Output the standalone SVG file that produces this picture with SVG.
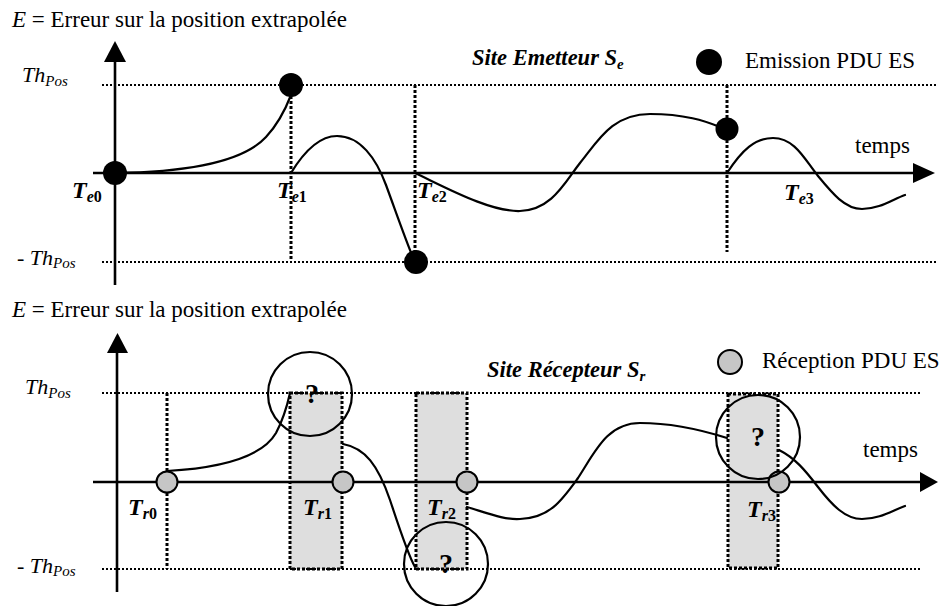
<svg xmlns="http://www.w3.org/2000/svg" width="939" height="606" viewBox="0 0 939 606">
  <defs>
    <style>
      .txt { font-family: "Liberation Serif", "Times New Roman", serif; fill: #000; }
      .t23 { font-size: 23px; }
      .it { font-style: italic; }
      .bi { font-style: italic; font-weight: bold; }
      .b { font-weight: bold; }
      .tm { font-size: 24px; }
      .sub { font-size: 16px; }
      .site { font-size: 22.5px; }
      .axis { stroke: #000; stroke-width: 2.6; fill: none; }
      .thr { stroke: #000; stroke-width: 2; stroke-dasharray: 2 2; fill: none; }
      .vdot { stroke: #000; stroke-width: 3; stroke-dasharray: 3 2; fill: none; }
      .curve { stroke: #000; stroke-width: 2.2; fill: none; stroke-linecap: round; }
      .emit { fill: #000; }
      .recv { fill: #c6c6c6; stroke: #000; stroke-width: 2; }
      .win { fill: #dedede; stroke: #000; stroke-width: 3; stroke-dasharray: 3 2; }
      .ring { fill: none; stroke: #000; stroke-width: 2.2; }
    </style>
  </defs>
  <rect width="939" height="606" fill="#fff"/>

  <!-- ===== Sender site ===== -->
  <g id="sender-title">
    <text class="txt t23" x="12" y="27"><tspan class="it">E</tspan> = Erreur sur la position extrapolée</text>
  </g>

  <g id="sender-thresholds">
    <line class="thr" x1="102" y1="85" x2="937" y2="85"/>
    <line class="thr" x1="102" y1="262" x2="937" y2="262"/>
    <text class="txt it" x="22" y="82" font-size="22">Th<tspan font-size="15" dy="4">Pos</tspan></text>
    <text class="txt it" x="17" y="265" font-size="22">- Th<tspan font-size="15" dy="3">Pos</tspan></text>
  </g>

  <g id="sender-marks">
    <line class="vdot" x1="291" y1="96" x2="291" y2="259"/>
    <line class="vdot" x1="415" y1="85" x2="415" y2="252"/>
    <line class="vdot" x1="727" y1="85" x2="727" y2="252"/>
  </g>

  <g id="sender-axes">
    <line class="axis" x1="115" y1="285" x2="115" y2="58"/>
    <polygon points="104,62 126,62 115,41" fill="#000"/>
    <line class="axis" x1="93" y1="173" x2="916" y2="173"/>
    <polygon points="913,163 913,183 935,173" fill="#000"/>
    <text class="txt t23" x="855" y="153">temps</text>
  </g>

  <g id="sender-legend">
    <text class="txt bi site" x="472" y="65">Site Emetteur S<tspan font-size="15" dy="4">e</tspan></text>
    <circle class="emit" cx="709" cy="62" r="13"/>
    <text class="txt t23" x="745" y="68">Emission PDU ES</text>
  </g>

  <g id="sender-curves">
    <path class="curve" d="M115,173 C195,172 245,160 266,137 C279,123 286,108 291,95"/>
    <path class="curve" d="M291,173 C305,150 320,136 337,136 C360,136 376,158 386,185 C397,215 405,238 412,255"/>
    <path class="curve" d="M415,173 C445,187 490,212 520,211 C552,210 565,182 580,163 C598,141 612,114 650,114 C685,114 705,121 720,127"/>
    <path class="curve" d="M727,173 C742,150 755,138 773,138 C795,138 805,160 818,176 C832,193 845,209 862,209 C880,209 893,199 905,195"/>
  </g>

  <g id="sender-events">
    <circle class="emit" cx="115" cy="173" r="12"/>
    <circle class="emit" cx="291" cy="85" r="12"/>
    <circle class="emit" cx="416" cy="262" r="12"/>
    <circle class="emit" cx="727" cy="129" r="11.5"/>
  </g>

  <g id="sender-times">
    <text class="txt bi tm" x="72" y="198">T<tspan class="sub" dy="4">e</tspan><tspan class="sub" font-style="normal">0</tspan></text>
    <text class="txt bi tm" x="277" y="198">T<tspan class="sub" dy="4">e</tspan><tspan class="sub" font-style="normal">1</tspan></text>
    <text class="txt bi tm" x="417" y="198">T<tspan class="sub" dy="4">e</tspan><tspan class="sub" font-style="normal">2</tspan></text>
    <text class="txt bi tm" x="784" y="200">T<tspan class="sub" dy="4">e</tspan><tspan class="sub" font-style="normal">3</tspan></text>
  </g>

  <!-- ===== Receiver site ===== -->
  <g id="receiver-title">
    <text class="txt t23" x="12" y="317"><tspan class="it">E</tspan> = Erreur sur la position extrapolée</text>
  </g>

  <g id="receiver-windows">
    <rect class="win" x="290" y="393" width="52" height="176"/>
    <rect class="win" x="416" y="393" width="51" height="176"/>
    <rect class="win" x="728" y="394" width="50" height="174"/>
    <line class="vdot" x1="167" y1="393" x2="167" y2="569"/>
  </g>

  <g id="receiver-thresholds">
    <line class="thr" x1="102" y1="393" x2="922" y2="393"/>
    <line class="thr" x1="102" y1="569" x2="922" y2="569"/>
    <text class="txt it" x="25" y="394" font-size="22">Th<tspan font-size="15" dy="4">Pos</tspan></text>
    <text class="txt it" x="17" y="573" font-size="22">- Th<tspan font-size="15" dy="3">Pos</tspan></text>
  </g>

  <g id="receiver-axes">
    <line class="axis" x1="117" y1="592" x2="117" y2="350"/>
    <polygon points="107,353 128,353 117.5,333" fill="#000"/>
    <line class="axis" x1="93" y1="482" x2="922" y2="482"/>
    <polygon points="920,472 920,492 938,482" fill="#000"/>
    <text class="txt t23" x="863" y="457">temps</text>
  </g>

  <g id="receiver-legend">
    <text class="txt bi site" x="487" y="377">Site Récepteur S<tspan font-size="15" dy="4">r</tspan></text>
    <circle class="recv" cx="730" cy="362" r="12"/>
    <text class="txt t23" x="762" y="368">Réception PDU ES</text>
  </g>

  <g id="receiver-curves">
    <path class="curve" d="M167,471 C220,468 262,457 276,433 C284,418 288,402 290,393"/>
    <path class="curve" d="M343,444 C365,448 378,465 390,500 C400,530 408,555 415,567"/>
    <path class="curve" d="M467,507 C490,514 505,520 520,519 C550,518 562,500 578,478 C595,452 607,423 640,423 C675,423 705,431 727,438"/>
    <path class="curve" d="M779,450 C795,458 805,470 818,487 C832,505 845,519 862,519 C880,519 893,510 905,506"/>
  </g>

  <g id="receiver-events">
    <circle class="recv" cx="167" cy="482" r="10.5"/>
    <circle class="recv" cx="343" cy="482" r="10.5"/>
    <circle class="recv" cx="467" cy="482" r="10.5"/>
    <circle class="recv" cx="779" cy="482" r="10.5"/>
  </g>

  <g id="receiver-unknowns">
    <circle class="ring" cx="310" cy="394" r="42"/>
    <text class="txt b" x="312" y="403" font-size="28" text-anchor="middle">?</text>
    <circle class="ring" cx="446" cy="564" r="42"/>
    <text class="txt b" x="446" y="573" font-size="28" text-anchor="middle">?</text>
    <circle class="ring" cx="758" cy="437" r="42"/>
    <text class="txt b" x="758" y="446" font-size="28" text-anchor="middle">?</text>
  </g>

  <g id="receiver-times">
    <text class="txt bi tm" x="128" y="515">T<tspan class="sub" dy="4">r</tspan><tspan class="sub" font-style="normal">0</tspan></text>
    <text class="txt bi tm" x="303" y="515">T<tspan class="sub" dy="4">r</tspan><tspan class="sub" font-style="normal">1</tspan></text>
    <text class="txt bi tm" x="427" y="515">T<tspan class="sub" dy="4">r</tspan><tspan class="sub" font-style="normal">2</tspan></text>
    <text class="txt bi tm" x="747" y="517">T<tspan class="sub" dy="4">r</tspan><tspan class="sub" font-style="normal">3</tspan></text>
  </g>
</svg>
